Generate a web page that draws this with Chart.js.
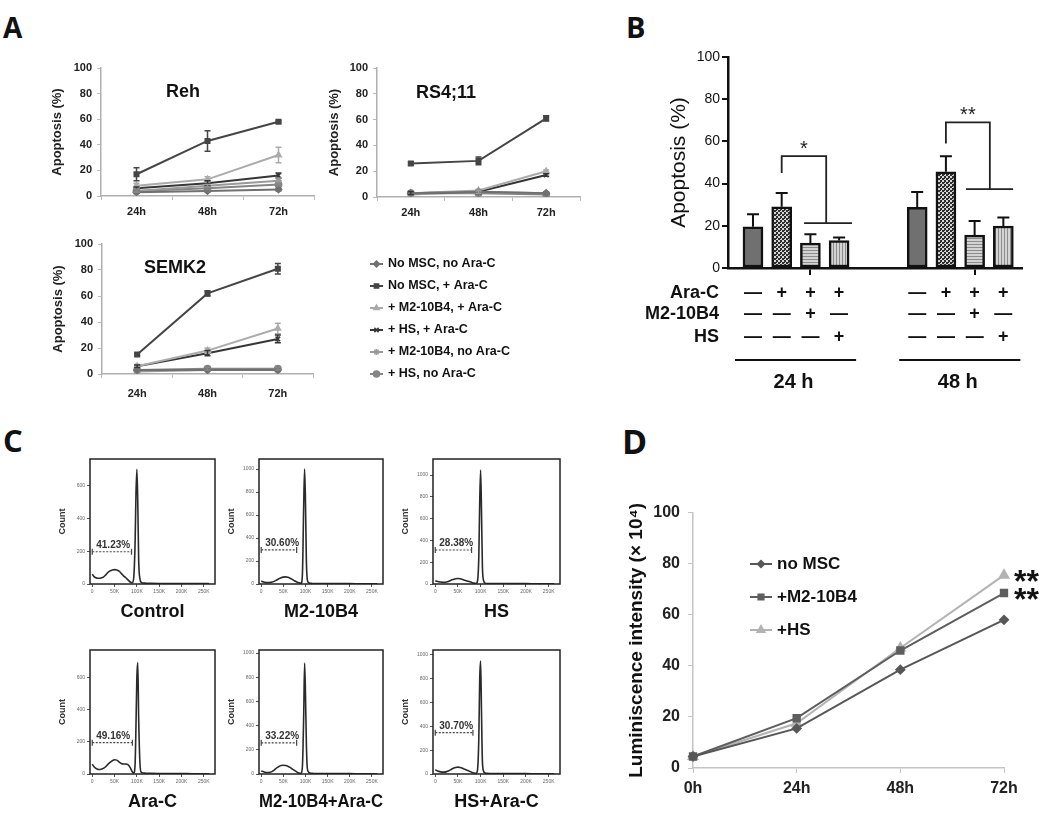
<!DOCTYPE html>
<html>
<head>
<meta charset="utf-8">
<script src="https://cdn.jsdelivr.net/npm/chart.js@4.4.1/dist/chart.umd.min.js"></script>
<style>
body { margin: 0; background: #fff; width: 1050px; height: 821px; position: relative; overflow: hidden; }
canvas { position: absolute; }
.letter { position: absolute; font-family: 'Open Sans', sans-serif; font-weight: 700; line-height: 1; color: #111; }
</style>
</head>
<body>
<div class="letter" style="left:3px;top:13px;font-size:28px">A</div>
<div class="letter" style="left:626px;top:12px;font-size:29px">B</div>
<div class="letter" style="left:3px;top:425px;font-size:31px">C</div>
<div class="letter" style="left:622px;top:424px;font-size:34px">D</div>
<script>
// ---- panel A : apoptosis of three cell lines ----
var timeLabels = ['24h', '48h', '72h'];
var seriesNames = ['No MSC, no Ara-C', 'No MSC, + Ara-C', '+ M2-10B4, + Ara-C', '+ HS, + Ara-C', '+ M2-10B4, no Ara-C', '+ HS, no Ara-C'];
var rehValues = [[3, 4, 5], [17, 43, 58], [8, 13, 32], [6, 10, 16], [4, 8, 12], [4, 6, 9]];
var rehErrors = [[1, 1, 1], [5, 8, 1], [2, 2, 6], [1, 2, 2], [1, 1, 2], [1, 1, 1]];
var rs411Values = [[3, 4, 3], [26, 28, 61], [3, 5, 20], [3, 4, 17], [2, 4, 3], [3, 3, 2]];
var rs411Errors = [[1, 1, 1], [1, 3, 2], [1, 1, 1], [1, 1, 1], [0, 1, 0], [0, 0, 0]];
var semk2Values = [[3, 3, 3], [15, 62, 81], [6, 18, 35], [6, 16, 27], [2, 3, 3], [3, 4, 4]];
var semk2Errors = [[0, 0, 1], [1, 2, 4], [1, 2, 4], [1, 2, 3], [0, 0, 0], [0, 1, 1]];

// ---- panel B : apoptosis bars ----
var barValues24 = [19.5, 29, 11.8, 13];
var barErrors24 = [6, 6.5, 4.2, 1.5];
var barValues48 = [28.7, 45.6, 15.6, 19.9];
var barErrors48 = [7.3, 7.4, 6.7, 4];
var groupLabels = ['24 h', '48 h'];
var rowLabels = ['Ara-C', 'M2-10B4', 'HS'];
var araCMarks = ['\u2014', '+', '+', '+'];
var m2Marks = ['\u2014', '\u2014', '+', '\u2014'];
var hsMarks = ['\u2014', '\u2014', '\u2014', '+'];

// ---- panel C : cell cycle histograms (x in K) ----
var cycleX = [0, 4, 8, 12, 16, 20, 25, 30, 35, 40, 45, 50, 55, 60, 65, 70, 75, 80, 85, 90, 93, 96, 98, 100, 102, 104, 107, 110, 115, 120, 130, 150, 175, 200, 225, 250, 262];
var cycleXTicks = [0, 50, 100, 150, 200, 250];
var controlCounts = [60, 45, 38, 35, 35, 37, 42, 55, 70, 80, 86, 88, 85, 78, 65, 50, 38, 25, 12, 8, 40, 250, 550, 700, 500, 150, 30, 10, 6, 5, 4, 3, 3, 3, 2, 2, 2];
var m2Counts = [25, 20, 15, 12, 12, 14, 18, 25, 35, 45, 55, 60, 62, 58, 50, 40, 28, 18, 10, 6, 80, 700, 1000, 700, 200, 40, 12, 6, 5, 4, 3, 3, 3, 3, 2, 2, 2];
var hsCounts = [30, 25, 20, 18, 16, 15, 18, 25, 35, 42, 48, 50, 48, 42, 35, 28, 22, 15, 8, 5, 25, 250, 750, 1045, 650, 150, 25, 8, 5, 4, 3, 3, 3, 3, 2, 2, 2];
var araCCounts = [60, 45, 35, 30, 28, 30, 35, 45, 60, 72, 82, 88, 86, 75, 65, 62, 62, 58, 40, 12, 5, 60, 300, 600, 690, 350, 60, 10, 6, 5, 4, 3, 3, 3, 2, 2, 2];
var m2AraCCounts = [25, 20, 15, 12, 12, 15, 22, 35, 50, 62, 70, 72, 70, 65, 55, 42, 30, 18, 8, 5, 60, 500, 917, 650, 250, 50, 15, 8, 5, 4, 3, 3, 3, 3, 2, 2, 2];
var hsAraCCounts = [35, 28, 22, 18, 16, 16, 20, 28, 38, 48, 55, 58, 55, 48, 40, 32, 24, 15, 8, 5, 30, 300, 800, 950, 500, 100, 20, 8, 5, 4, 3, 3, 3, 3, 2, 2, 2];
var cycleTitles = ['Control', 'M2-10B4', 'HS', 'Ara-C', 'M2-10B4+Ara-C', 'HS+Ara-C'];
var cycleYMax = [763, 1087, 1147, 768, 1025, 1042];
var cycleYTicks = [0, 200, 400, 600, 800, 1000];
var gatePercents = ['41.23%', '30.60%', '28.38%', '49.16%', '33.22%', '30.70%'];
var gateLevels = [197, 296, 312, 194, 258, 347];
var gateEnds = [88, 80, 80, 90, 80, 83];

// ---- panel D : luminescence ----
var lumLabels = ['0h', '24h', '48h', '72h'];
var noMscLum = [4.5, 15.5, 38.5, 58];
var m2Lum = [4.5, 19.5, 46, 68.5];
var hsLum = [4.5, 17.5, 47, 75.5];

var FONT = "'Liberation Sans', Arial, sans-serif";
Chart.defaults.font.family = FONT;
Chart.defaults.color = '#222';

var lineColors = ['#707070', '#454545', '#ababab', '#363636', '#9a9a9a', '#858585'];
var lineMarkers = ['rectRot', 'rect', 'triangle', 'crossRot', 'star', 'circle'];

function makeCanvas(left, top, w, h) {
    var c = document.createElement('canvas');
    c.width = w;
    c.height = h;
    c.style.left = left + 'px';
    c.style.top = top + 'px';
    c.style.width = w + 'px';
    c.style.height = h + 'px';
    document.body.appendChild(c);
    return c;
}

function textPlugin(items) {
    // items: canvas relative text, {text, x, y, font, align}
    return {
        id: 'freeText',
        afterDraw: function (chart) {
            var ctx = chart.ctx;
            ctx.save();
            items.forEach(function (t) {
                ctx.font = t.font;
                ctx.fillStyle = t.color || '#111';
                ctx.textAlign = t.align || 'center';
                ctx.textBaseline = t.baseline || 'middle';
                ctx.fillText(t.text, t.x, t.y);
            });
            ctx.restore();
        }
    };
}

function lineErrorBars(errors, cap) {
    return {
        id: 'lineErrorBars',
        afterDatasetsDraw: function (chart) {
            var ctx = chart.ctx, y = chart.scales.y;
            chart.data.datasets.forEach(function (ds, i) {
                var err = errors[i];
                if (!err) return;
                ctx.save();
                ctx.strokeStyle = ds.borderColor;
                ctx.lineWidth = 1.5;
                chart.getDatasetMeta(i).data.forEach(function (p, j) {
                    if (!err[j]) return;
                    var top = y.getPixelForValue(ds.data[j] + err[j]);
                    var bot = y.getPixelForValue(Math.max(ds.data[j] - err[j], 0));
                    ctx.beginPath();
                    ctx.moveTo(p.x, top); ctx.lineTo(p.x, bot);
                    ctx.moveTo(p.x - cap / 2, top); ctx.lineTo(p.x + cap / 2, top);
                    ctx.moveTo(p.x - cap / 2, bot); ctx.lineTo(p.x + cap / 2, bot);
                    ctx.stroke();
                });
                ctx.restore();
            });
        }
    };
}

function markerLegend(entries, x, y0, dy, lineLen, font) {
    return {
        id: 'markerLegend',
        afterDraw: function (chart) {
            var ctx = chart.ctx;
            ctx.save();
            entries.forEach(function (e, i) {
                var yy = y0 + i * dy;
                ctx.strokeStyle = e.color;
                ctx.fillStyle = e.color;
                ctx.lineWidth = 2;
                ctx.beginPath();
                ctx.moveTo(x, yy);
                ctx.lineTo(x + lineLen, yy);
                ctx.stroke();
                ctx.lineWidth = 1.5;
                Chart.helpers.drawPoint(ctx, { pointStyle: e.marker, radius: e.radius, borderWidth: 1.5, rotation: 0 }, x + lineLen / 2, yy);
                ctx.fillStyle = '#111';
                ctx.font = font;
                ctx.textAlign = 'left';
                ctx.textBaseline = 'middle';
                ctx.fillText(e.text, x + lineLen + 5, yy);
            });
            ctx.restore();
        }
    };
}

// one panel A chart
function cellChart(cv, area, name, namePos, values, errors, titleGap, labelPad, extra) {
    var canvas = makeCanvas(cv[0], cv[1], cv[2], cv[3]);
    var datasets = values.map(function (v, i) {
        return {
            label: seriesNames[i], data: v,
            borderColor: lineColors[i], backgroundColor: lineColors[i],
            borderWidth: 2, pointStyle: lineMarkers[i], pointRadius: 3.2,
            pointBorderWidth: 1.5, tension: 0
        };
    });
    var plugins = [
        lineErrorBars(errors, 6),
        textPlugin([{ text: name, x: namePos[0] - cv[0], y: namePos[1] - cv[1], font: 'bold 18px ' + FONT }])
    ];
    if (extra) plugins.push(extra);
    new Chart(canvas, {
        type: 'line',
        data: { labels: timeLabels, datasets: datasets },
        options: {
            responsive: false, animation: false,
            layout: { padding: { top: area.top - cv[1], right: cv[0] + cv[2] - area.right, left: 0, bottom: 0 } },
            plugins: { legend: { display: false }, tooltip: { enabled: false } },
            scales: {
                x: {
                    offset: true,
                    grid: { display: true, offset: true, drawOnChartArea: false, tickLength: 4, color: '#bbb' },
                    border: { color: '#b0b0b0', width: 1.5 },
                    ticks: { font: { size: 11, weight: 'bold' }, color: '#222', padding: labelPad },
                    afterFit: function (s) { s.height = cv[1] + cv[3] - area.bottom; }
                },
                y: {
                    min: 0, max: 100,
                    ticks: { stepSize: 20, font: { size: 11, weight: 'bold' }, color: '#222', padding: 5 },
                    grid: { display: true, drawOnChartArea: false, tickLength: 4, color: '#bbb' },
                    border: { color: '#b0b0b0', width: 1.5 },
                    title: { display: true, text: 'Apoptosis (%)', font: { size: 13, weight: 'bold' }, color: '#222', padding: { top: titleGap, bottom: 0 } },
                    afterFit: function (s) { s.width = area.left - cv[0]; }
                }
            }
        },
        plugins: plugins
    });
}

cellChart([35, 55, 290, 175], { left: 101, top: 68, right: 314, bottom: 196 }, 'Reh', [183, 92], rehValues, rehErrors, 15, 5);
cellChart([312, 55, 290, 175], { left: 377, top: 68, right: 580, bottom: 197 }, 'RS4;11', [446, 93], rs411Values, rs411Errors, 15, 5);
cellChart([35, 231, 530, 180], { left: 102, top: 244, right: 313, bottom: 374 }, 'SEMK2', [175, 268], semk2Values, semk2Errors, 16, 9,
    markerLegend(seriesNames.map(function (n, i) {
        return { text: n, color: lineColors[i], marker: lineMarkers[i], radius: 3 };
    }), 335, 33, 22, 13, 'bold 12.5px ' + FONT));

// ---- panel B ----
(function () {
    var cv = [620, 40, 420, 360];
    var area = { left: 728, top: 57, right: 1022, bottom: 268 };
    var groupStart = [0, 5.72];
    var barX = [], values = [], errors = [];
    [barValues24, barValues48].forEach(function (vals, g) {
        vals.forEach(function (v, i) {
            barX.push(groupStart[g] + i);
            values.push(v);
            errors.push(g === 0 ? barErrors24[i] : barErrors48[i]);
        });
    });

    function pattern(size, draw) {
        var c = document.createElement('canvas');
        c.width = size; c.height = size;
        var g = c.getContext('2d');
        draw(g);
        return g.createPattern(c, 'repeat');
    }
    var fills = [
        '#707070',
        pattern(4, function (g) { g.fillStyle = '#d6d6d6'; g.fillRect(0, 0, 4, 4); g.fillStyle = '#2e2e2e'; g.fillRect(0, 0, 2, 2); g.fillRect(2, 2, 2, 2); g.fillRect(0, 2, 1, 1); }),
        pattern(3, function (g) { g.fillStyle = '#d4d4d4'; g.fillRect(0, 0, 3, 3); g.fillStyle = '#8c8c8c'; g.fillRect(0, 0, 3, 1); }),
        pattern(3, function (g) { g.fillStyle = '#d4d4d4'; g.fillRect(0, 0, 3, 3); g.fillStyle = '#8c8c8c'; g.fillRect(0, 0, 1, 3); })
    ];
    var barFills = fills.concat(fills);

    var brackets = [
        { text: '*', left: 1, leftFrom: 45, top: 53, right: 2.55, bottom: 21.3, baseFrom: 1.78, baseTo: 3.45 },
        { text: '**', left: 6.72, leftFrom: 59, top: 69, right: 8.25, bottom: 37.4, baseFrom: 7.42, baseTo: 9.06 }
    ];
    var markRows = [araCMarks, m2Marks, hsMarks];
    var rowOffsets = [25, 46, 69];

    var decor = {
        id: 'barDecor',
        afterDatasetsDraw: function (chart) {
            var ctx = chart.ctx, x = chart.scales.x, y = chart.scales.y;
            ctx.save();
            ctx.strokeStyle = '#111';
            ctx.lineWidth = 2;
            // error bars (upper only)
            chart.getDatasetMeta(0).data.forEach(function (bar, k) {
                var top = y.getPixelForValue(values[k] + errors[k]);
                ctx.beginPath();
                ctx.moveTo(bar.x, bar.y);
                ctx.lineTo(bar.x, top);
                ctx.moveTo(bar.x - 6, top);
                ctx.lineTo(bar.x + 6, top);
                ctx.stroke();
            });
            // significance brackets
            ctx.lineWidth = 1.8;
            ctx.strokeStyle = '#222';
            brackets.forEach(function (b) {
                var xl = x.getPixelForValue(b.left), xr = x.getPixelForValue(b.right);
                var yt = y.getPixelForValue(b.top), yb = y.getPixelForValue(b.bottom);
                ctx.beginPath();
                ctx.moveTo(xl, y.getPixelForValue(b.leftFrom));
                ctx.lineTo(xl, yt);
                ctx.lineTo(xr, yt);
                ctx.lineTo(xr, yb);
                ctx.moveTo(x.getPixelForValue(b.baseFrom), yb);
                ctx.lineTo(x.getPixelForValue(b.baseTo), yb);
                ctx.stroke();
                ctx.fillStyle = '#222';
                ctx.font = '20px ' + FONT;
                ctx.textAlign = 'center';
                ctx.textBaseline = 'alphabetic';
                ctx.fillText(b.text, (xl + xr) / 2, yt - 1);
            });
            // treatment table
            var base = chart.chartArea.bottom;
            ctx.fillStyle = '#111';
            ctx.font = 'bold 18px ' + FONT;
            ctx.textBaseline = 'middle';
            rowLabels.forEach(function (lab, r) {
                var yy = base + rowOffsets[r];
                ctx.textAlign = 'right';
                ctx.fillText(lab, chart.chartArea.left - 9, yy);
                ctx.textAlign = 'center';
                barX.forEach(function (bx, k) {
                    ctx.fillText(markRows[r][k % 4], x.getPixelForValue(bx), yy);
                });
            });
            ctx.lineWidth = 2;
            ctx.strokeStyle = '#111';
            ctx.font = 'bold 20px ' + FONT;
            groupLabels.forEach(function (lab, g) {
                var x1 = x.getPixelForValue(groupStart[g]) - 18;
                var x2 = x.getPixelForValue(groupStart[g] + 3) + 17;
                ctx.beginPath();
                ctx.moveTo(x1, base + 92);
                ctx.lineTo(x2, base + 92);
                ctx.stroke();
                ctx.fillText(lab, (x1 + x2) / 2 - 2, base + 114);
            });
            ctx.restore();
        }
    };

    new Chart(makeCanvas(cv[0], cv[1], cv[2], cv[3]), {
        type: 'bar',
        data: {
            datasets: [{
                data: barX.map(function (bx, k) { return { x: bx, y: values[k] }; }),
                backgroundColor: barFills,
                borderColor: '#111',
                borderWidth: 2.5,
                borderSkipped: false,
                barThickness: 20
            }]
        },
        options: {
            responsive: false, animation: false,
            layout: { padding: { top: area.top - cv[1], right: cv[0] + cv[2] - area.right, left: 0, bottom: 0 } },
            plugins: { legend: { display: false }, tooltip: { enabled: false } },
            scales: {
                x: {
                    type: 'linear', min: -0.87, max: 9.37, offset: false,
                    ticks: { display: false },
                    grid: { display: true, offset: false, drawOnChartArea: false, tickLength: 7, color: '#111', lineWidth: 2 },
                    border: { color: '#111', width: 2.5 },
                    afterBuildTicks: function (s) { s.ticks = [{ value: groupStart[0] + 2 }, { value: groupStart[1] + 2 }]; },
                    afterFit: function (s) { s.height = cv[1] + cv[3] - area.bottom; s.paddingLeft = 0; s.paddingRight = 0; }
                },
                y: {
                    min: 0, max: 100,
                    ticks: { stepSize: 20, font: { size: 14 }, color: '#111', padding: 2 },
                    grid: { display: true, drawOnChartArea: false, tickLength: 6, color: '#111', lineWidth: 2 },
                    border: { color: '#111', width: 2.5 },
                    title: { display: true, text: 'Apoptosis (%)', font: { size: 21 }, color: '#111', padding: { top: 47, bottom: 0 } },
                    afterFit: function (s) { s.width = area.left - cv[0]; }
                }
            }
        },
        plugins: [decor]
    });
})();

// ---- panel C ----
(function () {
    var counts = [controlCounts, m2Counts, hsCounts, araCCounts, m2AraCCounts, hsAraCCounts];
    var cols = [[90, 215], [259, 383], [433, 560]];
    var rows = [[459, 584], [650, 774]];

    counts.forEach(function (c, k) {
        var col = cols[k % 3], row = rows[Math.floor(k / 3)];
        var box = { left: col[0], right: col[1], top: row[0], bottom: row[1] };
        var cv = [box.left - 40, box.top - 8, box.right - box.left + 48, box.bottom - box.top + 53];
        var yMax = cycleYMax[k];

        var frame = {
            id: 'cycleFrame',
            afterDraw: function (chart) {
                var ctx = chart.ctx, a = chart.chartArea, x = chart.scales.x, y = chart.scales.y;
                ctx.save();
                ctx.strokeStyle = '#222';
                ctx.lineWidth = 1.5;
                ctx.strokeRect(a.left, a.top, a.right - a.left, a.bottom - a.top);
                var gy = y.getPixelForValue(gateLevels[k]);
                var g0 = x.getPixelForValue(0), g1 = x.getPixelForValue(gateEnds[k]);
                ctx.lineWidth = 1.2;
                ctx.strokeStyle = '#444';
                ctx.setLineDash([2, 1.5]);
                ctx.beginPath();
                ctx.moveTo(g0, gy); ctx.lineTo(g1, gy);
                ctx.stroke();
                ctx.setLineDash([]);
                ctx.beginPath();
                ctx.moveTo(g0, gy - 3); ctx.lineTo(g0, gy + 3);
                ctx.moveTo(g1, gy - 3); ctx.lineTo(g1, gy + 3);
                ctx.stroke();
                ctx.fillStyle = '#333';
                ctx.font = 'bold 10px ' + FONT;
                ctx.textAlign = 'left';
                ctx.textBaseline = 'alphabetic';
                ctx.fillText(gatePercents[k], g0 + 4, gy - 4);
                ctx.restore();
            }
        };

        new Chart(makeCanvas(cv[0], cv[1], cv[2], cv[3]), {
            type: 'line',
            data: {
                datasets: [{
                    data: cycleX.map(function (v, i) { return { x: v, y: c[i] }; }),
                    borderColor: '#2a2a2a', borderWidth: 1.6, pointRadius: 0,
                    cubicInterpolationMode: 'monotone', fill: false
                }]
            },
            options: {
                responsive: false, animation: false,
                layout: { padding: { top: 8, right: 8, left: 0, bottom: 0 } },
                plugins: { legend: { display: false }, tooltip: { enabled: false } },
                scales: {
                    x: {
                        type: 'linear', min: -5, max: 275,
                        afterBuildTicks: function (s) { s.ticks = cycleXTicks.map(function (v) { return { value: v }; }); },
                        ticks: { font: { size: 5 }, color: '#666', padding: 2, maxRotation: 0, autoSkip: false,
                            callback: function (v) { return v === 0 ? '0' : v + 'K'; } },
                        grid: { display: true, drawOnChartArea: false, tickLength: 3, color: '#555' },
                        border: { display: false },
                        title: { display: true, text: cycleTitles[k], font: { size: 18, weight: 'bold' }, color: '#111', padding: { top: 0, bottom: 6 } },
                        afterFit: function (s) { s.height = 45; s.paddingLeft = 0; s.paddingRight = 0; }
                    },
                    y: {
                        min: 0, max: yMax,
                        afterBuildTicks: function (s) {
                            s.ticks = cycleYTicks.filter(function (v) { return v < yMax; }).map(function (v) { return { value: v }; });
                        },
                        ticks: { font: { size: 5 }, color: '#666', padding: 2, autoSkip: false,
                            callback: function (v) { return String(v); } },
                        grid: { display: true, drawOnChartArea: false, tickLength: 3, color: '#555' },
                        border: { display: false },
                        title: { display: true, text: 'Count', font: { size: 9, weight: 'bold' }, color: '#333', padding: { top: 7, bottom: 0 } },
                        afterFit: function (s) { s.width = 40; }
                    }
                }
            },
            plugins: [frame]
        });
    });
})();

// ---- panel D ----
(function () {
    var cv = [620, 495, 430, 315];
    var area = { left: 693, top: 511, right: 1004, bottom: 768 };
    var names = ['no MSC', '+M2-10B4', '+HS'];
    var colors = ['#575757', '#5e5e5e', '#b3b3b3'];
    var markers = ['rectRot', 'rect', 'triangle'];
    var radii = [4, 4.5, 5];
    var series = [noMscLum, m2Lum, hsLum];

    var stars = {
        id: 'lumStars',
        afterDraw: function (chart) {
            var ctx = chart.ctx, y = chart.scales.y;
            ctx.save();
            ctx.fillStyle = '#111';
            ctx.font = 'bold 32px ' + FONT;
            ctx.textAlign = 'left';
            ctx.textBaseline = 'alphabetic';
            [2, 1].forEach(function (d) {
                var last = series[d][series[d].length - 1];
                ctx.fillText('**', chart.chartArea.right + 10, y.getPixelForValue(last) + 17);
            });
            ctx.restore();
        }
    };

    new Chart(makeCanvas(cv[0], cv[1], cv[2], cv[3]), {
        type: 'line',
        data: {
            labels: lumLabels,
            datasets: series.map(function (s, i) {
                return {
                    label: names[i], data: s, borderColor: colors[i], backgroundColor: colors[i],
                    borderWidth: 2, pointStyle: markers[i], pointRadius: radii[i], tension: 0
                };
            })
        },
        options: {
            responsive: false, animation: false,
            layout: { padding: { top: area.top - cv[1], right: cv[0] + cv[2] - area.right, left: 0, bottom: 0 } },
            plugins: { legend: { display: false }, tooltip: { enabled: false } },
            scales: {
                x: {
                    offset: false,
                    grid: { display: true, drawOnChartArea: false, tickLength: 5, color: '#c4c4c4' },
                    border: { color: '#c4c4c4', width: 1.5 },
                    ticks: { font: { size: 16, weight: 'bold' }, color: '#222', padding: 6 },
                    afterFit: function (s) { s.height = cv[1] + cv[3] - area.bottom; s.paddingLeft = 0; s.paddingRight = 0; }
                },
                y: {
                    min: 0, max: 100,
                    ticks: { stepSize: 20, font: { size: 16, weight: 'bold' }, color: '#222', padding: 8 },
                    grid: { display: true, drawOnChartArea: false, tickLength: 5, color: '#c4c4c4' },
                    border: { color: '#c4c4c4', width: 1.5 },
                    title: { display: true, text: 'Luminiscence intensity (\u00d7 10\u2074)', font: { size: 19, weight: 'bold' }, color: '#111', padding: { top: 5, bottom: 0 } },
                    afterFit: function (s) { s.width = area.left - cv[0]; }
                }
            }
        },
        plugins: [
            stars,
            markerLegend(names.map(function (n, i) {
                return { text: n, color: colors[i], marker: markers[i], radius: radii[i] - 0.5 };
            }), 130, 69, 33, 22, 'bold 17px ' + FONT)
        ]
    });
})();
</script>
</body>
</html>
